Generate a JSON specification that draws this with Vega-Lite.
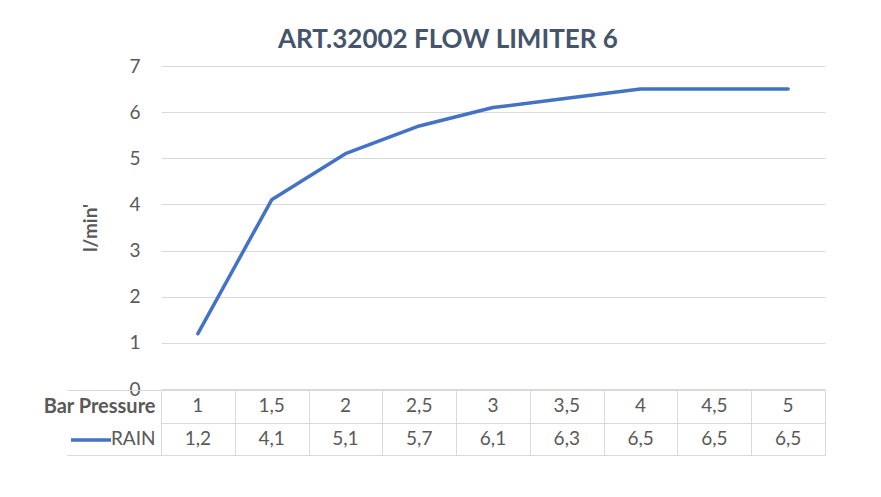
{
  "$schema": "https://vega.github.io/schema/vega-lite/v6.json",
  "padding": {"left": 42, "top": 27, "right": 5, "bottom": 5},
  "autosize": {"type": "pad"},
  "background": "white",
  "title": {"text": "ART.32002 FLOW LIMITER 6", "fontSize": 26, "fontWeight": "bold", "color": "#44546A", "font": "Lato", "anchor": "middle", "offset": 4, "dx": 14},
  "datasets": {
    "flow": [
      {"Bar Pressure": 1, "RAIN": 1.2},
      {"Bar Pressure": 1.5, "RAIN": 4.1},
      {"Bar Pressure": 2, "RAIN": 5.1},
      {"Bar Pressure": 2.5, "RAIN": 5.7},
      {"Bar Pressure": 3, "RAIN": 6.1},
      {"Bar Pressure": 3.5, "RAIN": 6.3},
      {"Bar Pressure": 4, "RAIN": 6.5},
      {"Bar Pressure": 4.5, "RAIN": 6.5},
      {"Bar Pressure": 5, "RAIN": 6.5}
    ]
  },
  "data": {"name": "flow"},
  "spacing": 1,
  "bounds": "flush",
  "vconcat": [
    {
      "width": 664,
      "height": 323,
      "mark": {"type": "line", "strokeWidth": 3.5, "strokeCap": "round", "strokeJoin": "round"},
      "encoding": {
        "x": {"field": "Bar Pressure", "type": "ordinal", "scale": {"type": "band", "paddingInner": 0, "paddingOuter": 0}, "axis": null, "bandPosition": 0.5},
        "y": {
          "field": "RAIN", "type": "quantitative",
          "scale": {"domain": [0, 7], "nice": false},
          "axis": {"title": "l/min'", "values": [0, 1, 2, 3, 4, 5, 6, 7], "grid": true, "gridColor": "#D9D9D9", "domain": false, "ticks": false, "labelPadding": 21, "labelFontSize": 19, "labelColor": "#595959", "titleFontSize": 19, "titleColor": "#595959", "titleFontWeight": "bold", "titlePadding": 28}
        },
        "color": {
          "datum": "RAIN",
          "scale": {"range": ["#4472C4"]},
          "legend": {"orient": "none", "legendX": -92, "legendY": 352, "title": null, "labelExpr": "''", "symbolType": "stroke", "symbolSize": 1600, "symbolStrokeWidth": 3.5, "padding": 0}
        }
      }
    },
    {
      "width": 664,
      "height": 65,
      "transform": [{"fold": ["Bar Pressure", "RAIN"], "as": ["row", "val"]}],
      "mark": {"type": "text", "fontSize": 19, "color": "#595959", "font": "Lato"},
      "encoding": {
        "x": {"field": "Bar Pressure", "type": "ordinal", "scale": {"type": "band", "paddingInner": 0, "paddingOuter": 0}, "axis": {"title": null, "labels": false, "ticks": false, "domain": false, "grid": true, "tickBand": "extent", "gridColor": "#D9D9D9"}},
        "y": {
          "field": "row", "type": "nominal", "sort": ["Bar Pressure", "RAIN"],
          "scale": {"type": "band", "paddingInner": 0, "paddingOuter": 0},
          "axis": {
            "title": null, "domain": false, "grid": true, "gridColor": "#D9D9D9", "tickBand": "extent",
            "ticks": true, "tickSize": 94, "tickColor": "#D9D9D9",
            "tickOpacity": {"condition": {"test": "datum.value === 'Bar Pressure'", "value": 0}, "value": 1},
            "labelPadding": -88, "labelColor": "#595959",
            "labelFontSize": {"condition": {"test": "datum.value === 'Bar Pressure'", "value": 20}, "value": 19},
            "labelFontWeight": {"condition": {"test": "datum.value === 'Bar Pressure'", "value": "bold"}, "value": "normal"}
          }
        },
        "text": {"field": "val", "type": "quantitative", "format": "~g"}
      }
    }
  ],
  "config": {
    "font": "Lato",
    "view": {"stroke": null},
    "axis": {"labelFont": "Lato", "titleFont": "Lato"},
    "locale": {"number": {"decimal": ",", "thousands": ".", "grouping": [3], "currency": ["", " €"]}}
  }
}
